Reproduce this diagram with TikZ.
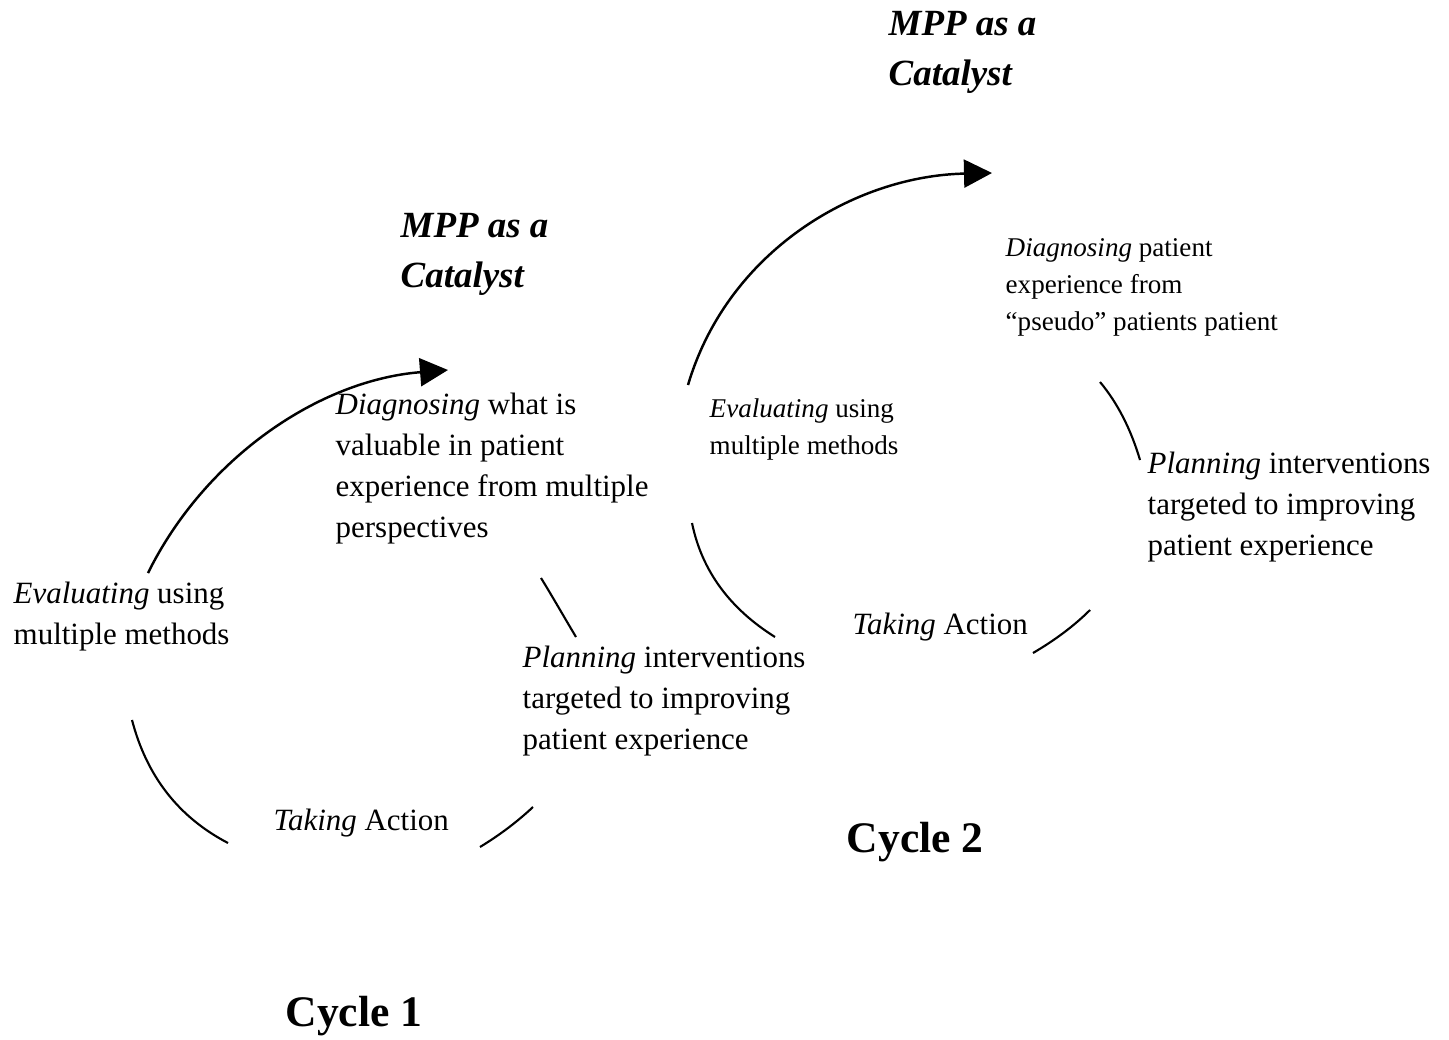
\documentclass[tikz,border=0pt]{standalone}
\usepackage{fontspec}
\setmainfont{Liberation Serif}
\usetikzlibrary{arrows.meta}
\tikzset{
  txt/.style={font=\fontsize{8.8}{11.7}\selectfont, align=left, anchor=north west, inner sep=0pt},
  txtsmall/.style={font=\fontsize{7.7}{10.5}\selectfont, align=left, anchor=north west, inner sep=0pt},
  mpp/.style={font=\fontsize{10.5}{14.2}\selectfont\bfseries\itshape, align=left, anchor=north west, inner sep=0pt},
  cyc/.style={font=\fontsize{12.4}{14}\selectfont\bfseries, anchor=north west, inner sep=0pt},
  arc/.style={line width=0.6pt},
  arrowarc/.style={line width=0.7pt, -{Triangle[length=0.28cm,width=0.28cm]}}
}
\begin{document}
\begin{tikzpicture}[x=0.01cm,y=-0.01cm]
\useasboundingbox[fill=white] (0,0) rectangle (1449,1040);

% ---------- Cycle 1 ----------
\node[mpp] (mpp1) at (400,213) {MPP as a\\Catalyst};
\node[txt] (diag1) at (335,392) {\textit{Diagnosing} what is\\valuable in patient\\experience from multiple\\perspectives};
\node[txt] (eval1) at (13,581) {\textit{Evaluating} using\\multiple methods};
\node[txt] (plan1) at (522,645) {\textit{Planning} interventions\\targeted to improving\\patient experience};
\node[txt] (act1) at (273,808) {\textit{Taking} Action};
\node[cyc] (cyc1) at (285,996) {Cycle 1};

\coordinate (a1s) at (148,573);
\coordinate (a1e) at (448,370);
\draw[arrowarc] (a1s) .. controls (205.2,457.4) and (319.4,380.2) .. (a1e);

\coordinate (b1s) at (132,720);
\coordinate (b1e) at (228,843);
\draw[arc] (b1s) .. controls (146.7,776.3) and (178.7,817.3) .. (b1e);

\coordinate (c1s) at (480,847);
\coordinate (c1e) at (533,807);
\draw[arc] (c1s) .. controls (499.7,835) and (517.3,821.7) .. (c1e);

\coordinate (d1s) at (541,578);
\coordinate (d1e) at (576,637);
\draw[arc] (d1s) .. controls (551.7,595.3) and (563.3,615.7) .. (d1e);

% ---------- Cycle 2 ----------
\node[mpp] (mpp2) at (888,11) {MPP as a\\Catalyst};
\node[txtsmall] (diag2) at (1005,238) {\textit{Diagnosing} patient\\experience from\\“pseudo” patients patient};
\node[txtsmall] (eval2) at (709,398) {\textit{Evaluating} using\\multiple methods};
\node[txt] (plan2) at (1147,451) {\textit{Planning} interventions\\targeted to improving\\patient experience};
\node[txt] (act2) at (852,612) {\textit{Taking} Action};
\node[cyc] (cyc2) at (846,822) {Cycle 2};

\coordinate (a2s) at (688,385);
\coordinate (a2e) at (992,173);
\draw[arrowarc] (a2s) .. controls (727.4,252) and (853.6,176) .. (a2e);

\coordinate (b2s) at (1100,382);
\coordinate (b2e) at (1140,460);
\draw[arc] (b2s) .. controls (1117.3,402.7) and (1130.7,428.7) .. (b2e);

\coordinate (c2s) at (1033,653);
\coordinate (c2e) at (1090,610);
\draw[arc] (c2s) .. controls (1054,640.7) and (1073.7,626.3) .. (c2e);

\coordinate (d2s) at (692,523);
\coordinate (d2e) at (775,637);
\draw[arc] (d2s) .. controls (701.7,570.3) and (729.3,608.3) .. (d2e);
\end{tikzpicture}
\end{document}
